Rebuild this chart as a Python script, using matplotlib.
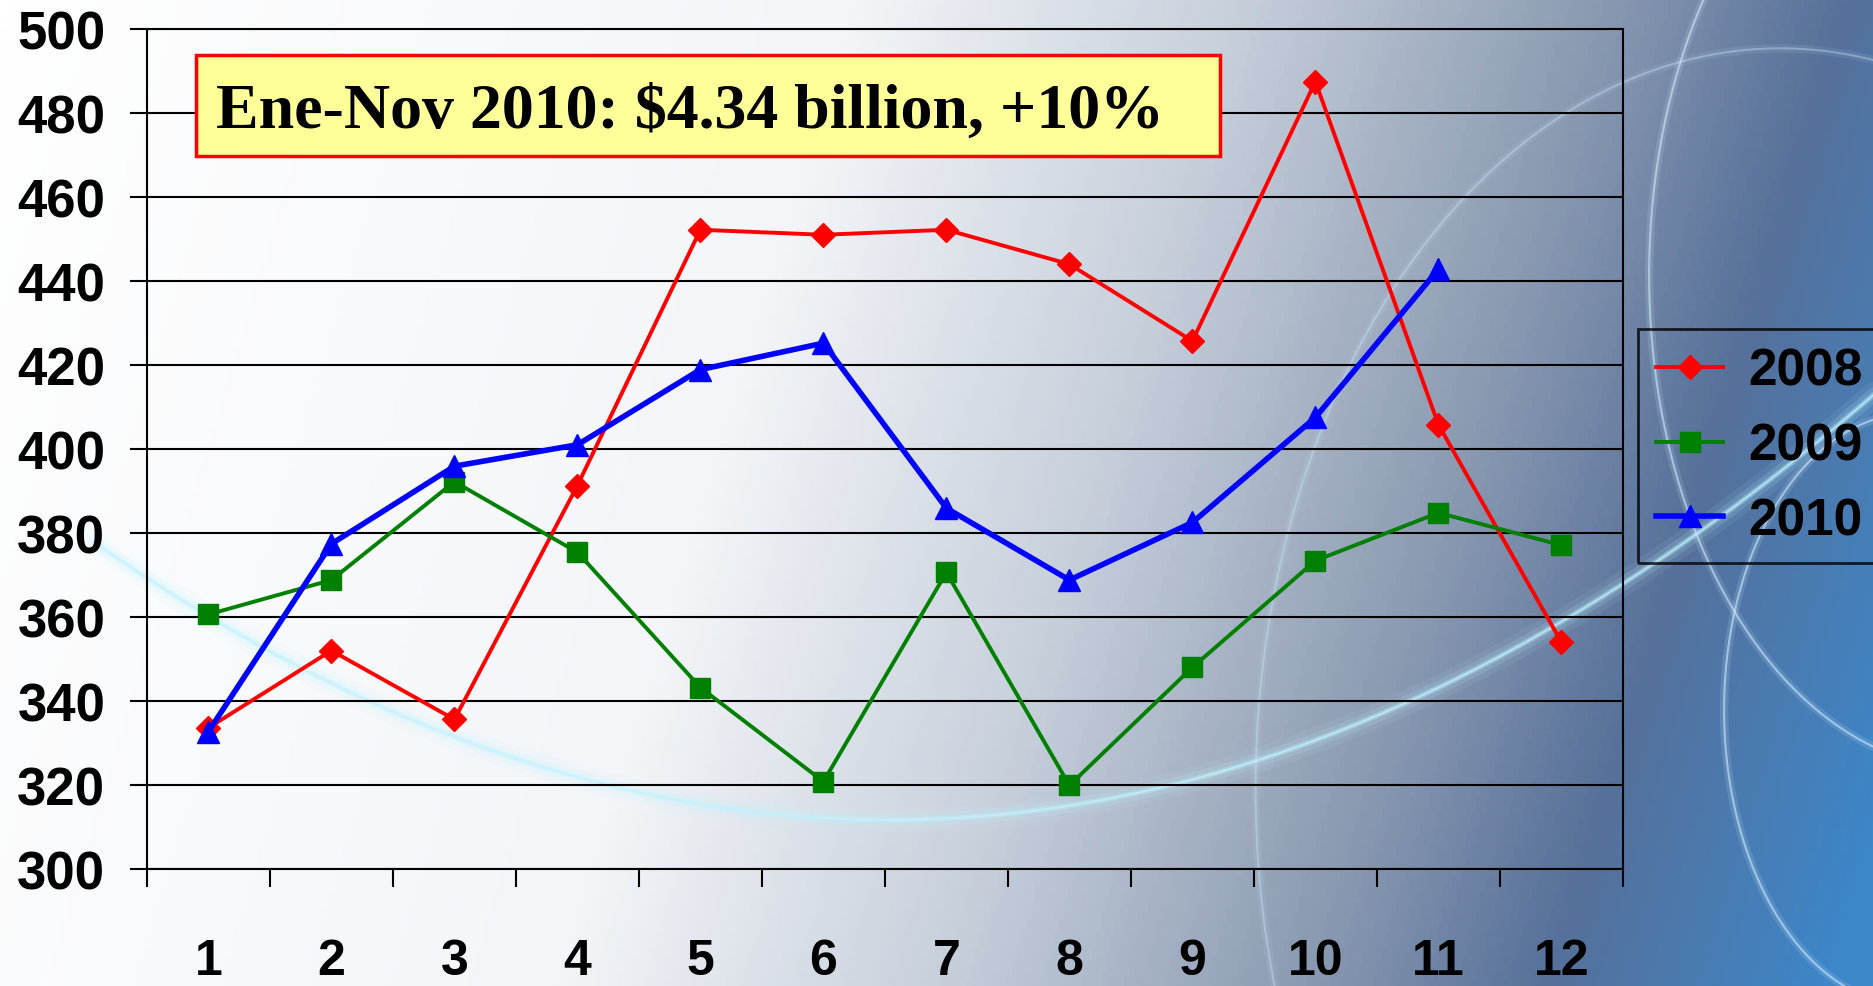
import numpy as np
import matplotlib.pyplot as plt
from matplotlib.colors import LinearSegmentedColormap
from matplotlib.patches import Rectangle

# monthly values
months = list(range(1, 13))
v2008 = [333.6, 352.0, 335.6, 391.3, 452.2, 451.0, 452.2, 444.0, 425.7, 487.5, 405.8, 354.0]
v2009 = [360.6, 368.8, 392.2, 375.4, 343.2, 320.8, 370.6, 319.9, 348.0, 373.4, 384.8, 377.1]
v2010 = [332.7, 377.4, 395.9, 401.0, 418.9, 425.2, 385.9, 368.8, 382.5, 407.5, 442.8]
yticks = list(range(300, 501, 20))
note = "Ene-Nov 2010: $4.34 billion, +10%"

sans = ['Liberation Sans', 'DejaVu Sans']
serif = ['Liberation Serif', 'DejaVu Serif']

fig = plt.figure(figsize=(18.74, 9.87), dpi=100)

# background: white on the left fading to slate / bright blue on the right
bg = fig.add_axes([0, 0, 1, 1], zorder=-10)
cmap = LinearSegmentedColormap.from_list(
    'bg', [(0, '#ffffff'), (0.4, '#f3f5f8'), (0.58, '#c8d0dc'),
           (0.76, '#8898b0'), (0.87, '#56709a'), (1.0, '#3d86c8')])
xx, yy = np.meshgrid(np.linspace(0, 1, 400), np.linspace(0, 1, 200))
grad = np.clip(xx * 0.88 + yy * 0.14, 0, 1)
bg.imshow(grad, cmap=cmap, aspect='auto', extent=[0, 1, 0, 1], origin='upper')

# glowing swirl (decoration only)
s = np.linspace(0, 1, 300)
gx = 0.05 + 0.98 * s
gy = 0.45 - 1.3 * s + 1.5 * s ** 2
for lw, a in [(18, 0.08), (10, 0.15), (4, 0.35), (1.5, 0.7)]:
    bg.plot(gx, gy, color='#bff3ff', lw=lw, alpha=a, solid_capstyle='round')
t = np.linspace(0, 2 * np.pi, 400)
for lw, a in [(6, 0.15), (1.5, 0.6)]:
    bg.plot(1.05 + 0.17 * np.cos(t), 0.72 + 0.5 * np.sin(t), color='#cfeaff', lw=lw, alpha=a)
    bg.plot(1.02 + 0.1 * np.cos(t), 0.28 + 0.3 * np.sin(t), color='#cfeaff', lw=lw, alpha=a)
    bg.plot(0.95 + 0.28 * np.cos(t), 0.2 + 0.75 * np.sin(t), color='#cfeaff', lw=lw, alpha=a * 0.6)
bg.set_xlim(0, 1)
bg.set_ylim(0, 1)
bg.axis('off')

ax = fig.add_axes([0.0784, 0.1186, 0.7876, 0.851])
ax.patch.set_alpha(0)

ax.plot(months, v2008, color='#ff0000', lw=2.8, marker='D', ms=12, label='2008', zorder=3)
ax.plot(months, v2009, color='#008000', lw=2.8, marker='s', ms=14, label='2009', zorder=3)
ax.plot(months[:len(v2010)], v2010, color='#0000ff', lw=4, marker='^', ms=16, label='2010', zorder=4)

ax.set_xlim(0.5, 12.5)
ax.set_ylim(300, 500)
ax.set_yticks(yticks)
ax.grid(axis='y', color='black', lw=1.5)
ax.set_axisbelow(True)

ax.set_xticks(months)
ax.set_xticks([m - 0.5 for m in months] + [12.5], minor=True)
ax.tick_params(axis='x', which='major', length=0, pad=50)
ax.tick_params(axis='x', which='minor', length=13, width=1.5, direction='out')
ax.tick_params(axis='y', length=12, width=1.5, direction='out', pad=18)
for lbl in ax.get_xticklabels():
    lbl.set_family(sans)
    lbl.set_fontweight('bold')
    lbl.set_fontsize(36)
for lbl in ax.get_yticklabels():
    lbl.set_family(sans)
    lbl.set_fontweight('bold')
    lbl.set_fontsize(38)

for sp in ax.spines.values():
    sp.set_color('black')
    sp.set_linewidth(1.5)

# note box
ax.add_patch(Rectangle((0.0332, 0.849), 0.694, 0.12, transform=ax.transAxes,
                       fc='#ffff99', ec='#ff0000', lw=2.5, zorder=5))
ax.text(0.0467, 0.902, note, transform=ax.transAxes, ha='left', va='center',
        fontsize=46, fontweight='bold', family=serif, zorder=6)

leg = fig.legend(loc='center', bbox_to_anchor=(0.939, 0.547),
                 prop={'family': sans, 'weight': 'bold', 'size': 37},
                 frameon=True, fancybox=False, handlelength=1.3, handletextpad=0.5,
                 labelspacing=0.5, borderpad=0.35, borderaxespad=0)
leg.get_frame().set_facecolor('none')
leg.get_frame().set_edgecolor('black')
leg.get_frame().set_linewidth(2)

fig.savefig('out.png', dpi=100)
